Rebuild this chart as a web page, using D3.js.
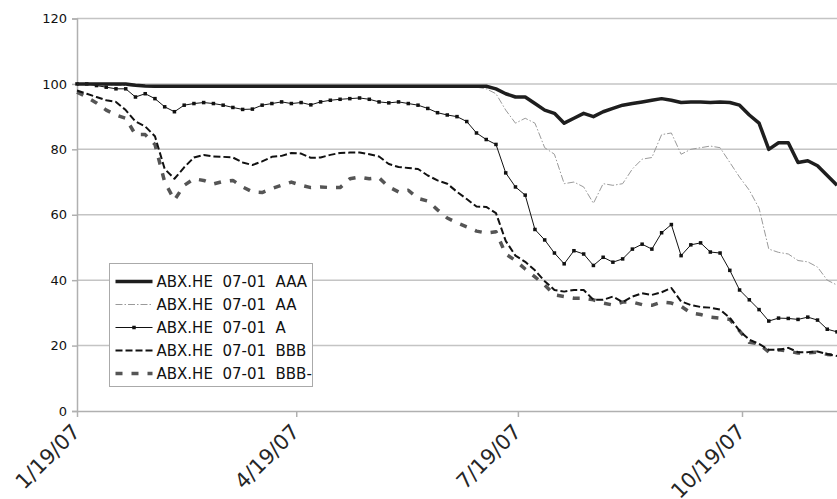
<!DOCTYPE html>
<html>
<head>
<meta charset="utf-8">
<script src="https://cdn.jsdelivr.net/npm/d3@7"></script>
<style>
  body { margin: 0; background: #fff; }
  text { font-family: "DejaVu Sans", sans-serif; }
</style>
</head>
<body>
<div id="chart"></div>
<script>
// fechas de los puntos (cada 4 dias)
var fechas = ["2007-01-19","2007-01-23","2007-01-27","2007-01-31","2007-02-04","2007-02-08","2007-02-12","2007-02-16","2007-02-20","2007-02-24",
  "2007-02-28","2007-03-04","2007-03-08","2007-03-12","2007-03-16","2007-03-20","2007-03-24","2007-03-28","2007-04-01","2007-04-05",
  "2007-04-09","2007-04-13","2007-04-17","2007-04-21","2007-04-25","2007-04-29","2007-05-03","2007-05-07","2007-05-11","2007-05-15",
  "2007-05-19","2007-05-23","2007-05-27","2007-05-31","2007-06-04","2007-06-08","2007-06-12","2007-06-16","2007-06-20","2007-06-24",
  "2007-06-28","2007-07-02","2007-07-06","2007-07-10","2007-07-14","2007-07-18","2007-07-22","2007-07-26","2007-07-30","2007-08-03",
  "2007-08-07","2007-08-11","2007-08-15","2007-08-19","2007-08-23","2007-08-27","2007-08-31","2007-09-04","2007-09-08","2007-09-12",
  "2007-09-16","2007-09-20","2007-09-24","2007-09-28","2007-10-02","2007-10-06","2007-10-10","2007-10-14","2007-10-18","2007-10-22",
  "2007-10-26","2007-10-30","2007-11-03","2007-11-07","2007-11-11","2007-11-15","2007-11-19","2007-11-23","2007-11-27"];

var serieAAA = [100,100,100,100,100,100,99.6,99.4,99.3,99.3,
  99.3,99.3,99.3,99.3,99.3,99.3,99.3,99.3,99.3,99.3,
  99.3,99.3,99.3,99.3,99.3,99.3,99.3,99.3,99.3,99.3,
  99.3,99.3,99.3,99.3,99.3,99.3,99.3,99.3,99.3,99.3,
  99.3,99.3,99.3,98.5,97,96,96,94,92,91,
  88,89.5,91,90,91.5,92.5,93.5,94,94.5,95,
  95.5,95,94.3,94.5,94.5,94.3,94.5,94.3,93.5,90.5,
  88,80,82,82,76,76.5,75,72,69];

var serieAA = [100,100,100,99.8,99.6,99.5,99.3,99.2,99,99,
  99,99,99,99,99,99,99,99,99,99,
  99,99,99,99,99,99,99,99,99,99,
  99,99,99,99,99,99,99,99,99,99,
  99,99,98.5,97,92,88,89.5,88,80.5,78.5,
  69.5,70,68.5,63.5,69.5,69,69.5,74,77,77.5,
  84.5,85,78.5,80,80.5,81,80.5,76,71.5,67.5,
  62,49.5,48.5,48,46,45.6,44,40,38.5];

var serieA = [100,100,99.5,99,98.5,98.5,96,97,95.5,93,
  91.5,93.5,94,94.3,94,93.5,92.8,92.2,92.3,93.5,
  94,94.5,94,94.3,93.6,94.5,95,95.3,95.5,95.7,
  95.3,94.5,94.2,94.5,94,93.5,92.5,91.2,90.5,90,
  88.5,85,83,81.5,72.8,68.5,66,55.5,52.3,48.3,
  45,49,48,44.5,47,45.5,46.5,49.5,51,49.5,
  54.5,57,47.5,50.8,51.4,48.6,48.3,43,37,34,
  31,27.5,28.4,28.3,28,28.7,27.8,25,24.2];

var serieBBB = [98,97,96,95,94.5,92,88.5,87,84,74,
  71,74.5,77.5,78.3,77.8,77.7,77.5,76,75.2,76.3,
  77.7,78,78.9,78.7,77.4,77.5,78.3,78.9,79,79,
  78.5,77.8,75.5,74.6,74.3,74,72,70.5,69.5,67,
  64.8,62.5,62.4,60.5,52,47.5,45.6,43,39.7,37,
  36.5,37,37,34,34,35,33.3,35,36,35.5,
  36.3,37.6,33.5,32.4,31.8,31.6,31,28.5,24.5,21.8,
  20.5,18.7,18.7,19.3,18,18,18.2,17.4,16.8];

var serieBBBm = [97.5,96,94.2,92,90.5,89.5,84.5,84.5,81.5,70,
  64.5,69,71,70.5,69.4,70.2,70.5,68.5,67,66.8,
  68,69,70,69,68.3,68.5,68.3,68.3,71,71.5,
  71,71.3,68.5,67,67.5,65,64.2,61.5,59,57.5,
  56.3,55,54.4,54.8,48,46,43.4,41,38.5,35.5,
  35,34.5,34.5,34,33,32.4,33.3,33.3,32.5,32.3,
  33.3,33,32,30,29.5,28.7,28.4,28,24.5,21,
  20.5,18,18.7,18.3,17.7,17.8,18,17.3,17];

var nombres = ["ABX.HE  07-01  AAA", "ABX.HE  07-01  AA", "ABX.HE  07-01  A", "ABX.HE  07-01  BBB", "ABX.HE  07-01  BBB-"];
var ticksY = [0, 20, 40, 60, 80, 100, 120];
var ticksX = ["2007-01-19", "2007-04-19", "2007-07-19", "2007-10-19"];

var width = 837, height = 499;
var margen = { left: 77, right: 0, top: 18.5, bottom: 88 };

var parse = d3.utcParse("%Y-%m-%d");
var fmt = d3.utcFormat("%-m/%-d/%y");
var dias = fechas.map(parse);

var svg = d3.select("#chart").append("svg")
  .attr("width", width).attr("height", height);

var x = d3.scaleUtc()
  .domain([dias[0], dias[dias.length - 1]])
  .range([margen.left, width - margen.right]);
var y = d3.scaleLinear().domain([0, 120]).range([height - margen.bottom, margen.top]);

// GRID
svg.append("g").selectAll("line").data(ticksY.filter(function (d) { return d > 0; }))
  .enter().append("line")
  .attr("x1", margen.left).attr("x2", width)
  .attr("y1", function (d) { return y(d); }).attr("y2", function (d) { return y(d); })
  .attr("stroke", "#c4c4c4").attr("stroke-width", 1.5);

// EJE Y
var ejeY = svg.append("g").attr("transform", "translate(" + margen.left + ",0)")
  .call(d3.axisLeft(y).tickValues(ticksY).tickSize(5).tickPadding(5));
ejeY.select(".domain").attr("stroke", "#b0b0b0").attr("stroke-width", 1.5);
ejeY.selectAll(".tick line").attr("stroke", "#b0b0b0").attr("stroke-width", 1.5);
ejeY.selectAll("text").attr("font-size", "13px").attr("fill", "#111")
  .style("font-family", "DejaVu Sans");

// EJE X (etiquetas giradas 45 grados)
var ejeX = svg.append("g").attr("transform", "translate(0," + y(0) + ")")
  .call(d3.axisBottom(x).tickValues(ticksX.map(parse)).tickFormat(fmt).tickSize(6).tickSizeOuter(0));
ejeX.select(".domain").attr("stroke", "#b0b0b0").attr("stroke-width", 1.5);
ejeX.selectAll(".tick line").attr("stroke", "#b0b0b0").attr("stroke-width", 1.5);
ejeX.selectAll("text")
  .attr("font-size", "21px").attr("fill", "#262626")
  .style("font-family", "DejaVu Sans")
  .attr("text-anchor", "end")
  .attr("x", 0).attr("y", 0).attr("dy", 0)
  .attr("transform", "translate(4,22) rotate(-45)");

// SERIES
var series = [
  { nombre: nombres[0], valores: serieAAA, color: "#1e1e1e", ancho: 3.5, dash: null, marca: false },
  { nombre: nombres[1], valores: serieAA, color: "#9a9a9a", ancho: 1, dash: "7,2,1.5,2", marca: false },
  { nombre: nombres[2], valores: serieA, color: "#111", ancho: 1, dash: null, marca: true },
  { nombre: nombres[3], valores: serieBBB, color: "#111", ancho: 2, dash: "7,3", marca: false },
  { nombre: nombres[4], valores: serieBBBm, color: "#555", ancho: 3.5, dash: "7,9", marca: false }
];

var linea = d3.line()
  .x(function (d, i) { return x(dias[i]); })
  .y(function (d) { return y(d); });

var plot = svg.append("g");
// orden de dibujo: de abajo hacia arriba
[4, 3, 1, 2, 0].forEach(function (k) {
  var s = series[k];
  plot.append("path")
    .attr("d", linea(s.valores))
    .attr("fill", "none")
    .attr("stroke", s.color)
    .attr("stroke-width", s.ancho)
    .attr("stroke-dasharray", s.dash)
    .attr("stroke-linejoin", "round");
  if (s.marca) {
    plot.append("g").selectAll("rect").data(s.valores).enter().append("rect")
      .attr("x", function (d, i) { return x(dias[i]) - 1.75; })
      .attr("y", function (d) { return y(d) - 1.75; })
      .attr("width", 3.5).attr("height", 3.5)
      .attr("fill", s.color);
  }
});

// LEYENDA
var ley = svg.append("g").attr("transform", "translate(109.5,263.5)");
ley.append("rect").attr("width", 203).attr("height", 123)
  .attr("fill", "#fff").attr("stroke", "#aaa").attr("stroke-width", 1);
series.forEach(function (s, i) {
  var yy = 18 + i * 23;
  ley.append("line")
    .attr("x1", 6).attr("x2", 43).attr("y1", yy).attr("y2", yy)
    .attr("stroke", s.color).attr("stroke-width", s.ancho)
    .attr("stroke-dasharray", s.dash);
  if (s.marca) {
    ley.append("rect").attr("x", 24.5 - 1.75).attr("y", yy - 1.75)
      .attr("width", 3.5).attr("height", 3.5).attr("fill", s.color);
  }
  ley.append("text")
    .attr("x", 47).attr("y", yy + 5.5)
    .attr("font-size", "15px").attr("fill", "#111")
    .style("white-space", "pre")
    .text(s.nombre);
});
</script>
</body>
</html>
